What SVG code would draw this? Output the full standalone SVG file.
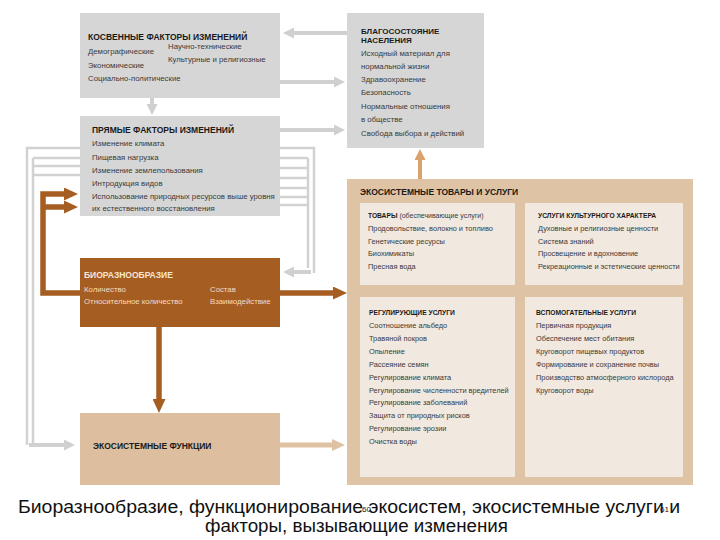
<svg xmlns="http://www.w3.org/2000/svg" width="720" height="540" viewBox="0 0 720 540">
<style>
text{font-family:"Liberation Sans",Arial,sans-serif;}
.t{font-size:8.5px;font-weight:bold;fill:#1a1a1a;}
.pt{font-size:6.7px;font-weight:bold;fill:#1a1a1a;}
.i{font-size:7.8px;fill:#3a3a3a;}
.pi{font-size:7.4px;fill:#3a3a3a;}
.bi{font-size:7.8px;fill:#f3dcc2;}
.bt{font-size:8.5px;font-weight:bold;fill:#f6e6d2;}
.gbox{fill:#d6d6d6;}
.g{fill:none;stroke:#d0d0d0;stroke-width:4;}
.gl{fill:none;stroke:#d2d2d2;stroke-width:2.5;}
.br{fill:none;stroke:#a65d22;stroke-width:5.5;}
.tn{fill:none;stroke:#dfc2a2;stroke-width:5;}
.or{fill:none;stroke:#dba26c;stroke-width:4;}
.cap{font-size:17.5px;fill:#111;}
.pg{font-size:8px;fill:#111;}
</style>
<defs>
<marker id="ag" markerUnits="userSpaceOnUse" markerWidth="11" markerHeight="11" viewBox="0 0 11 11" refX="2" refY="5.5" orient="auto"><path d="M0,0 L11,5.5 L0,11 z" fill="#d0d0d0"/></marker>
<marker id="ab" markerUnits="userSpaceOnUse" markerWidth="14" markerHeight="13" viewBox="0 0 14 13" refX="2" refY="6.5" orient="auto"><path d="M0,0 L14,6.5 L0,13 z" fill="#a65d22"/></marker>
<marker id="at" markerUnits="userSpaceOnUse" markerWidth="13" markerHeight="12" viewBox="0 0 13 12" refX="2" refY="6" orient="auto"><path d="M0,0 L13,6 L0,12 z" fill="#dfc2a2"/></marker>
<marker id="ao" markerUnits="userSpaceOnUse" markerWidth="11" markerHeight="11" viewBox="0 0 11 11" refX="2" refY="5.5" orient="auto"><path d="M0,0 L11,5.5 L0,11 z" fill="#dba26c"/></marker>
</defs>

<g id="connectors">
<path class="g" d="M347,33 H292" marker-end="url(#ag)"/>
<path class="g" d="M280,82 H336" marker-end="url(#ag)"/>
<path class="g" d="M280,130 H336" marker-end="url(#ag)"/>
<path class="g" d="M152,98 V106" marker-end="url(#ag)"/>
<path class="gl" d="M80,148 H27 V445"/>
<path class="gl" d="M80,158 H33 M80,166 H33 M80,175 H33 M33,158 V445"/>
<path class="g" d="M29,445 H66" marker-end="url(#ag)"/>
<path class="gl" d="M280,148 H314 V273"/>
<path class="gl" d="M280,158 H308 M280,168 H308 M280,178 H308 M280,188 H308 M280,197 H308 M280,205 H308 M308,158 V268"/>
<path class="g" d="M311,272 H292" marker-end="url(#ag)"/>
<path class="br" d="M80,293 H43 V194 H66" marker-end="url(#ab)"/>
<path class="br" d="M43,207 H66" marker-end="url(#ab)"/>
<path class="br" d="M280,293 H335" marker-end="url(#ab)"/>
<path class="br" d="M159,327 V401" marker-end="url(#ab)"/>
<path class="tn" d="M280,445 H334" marker-end="url(#at)"/>
<path class="or" d="M420,179 V158" marker-end="url(#ao)"/>
</g>

<g id="indirect">
<rect class="gbox" x="80" y="13" width="200" height="85"/>
<text class="t" x="88" y="40">КОСВЕННЫЕ ФАКТОРЫ ИЗМЕНЕНИЙ</text>
<text class="i" x="168" y="49">Научно-технические</text>
<text class="i" x="88" y="54">Демографические</text>
<text class="i" x="168" y="62">Культурные и религиозные</text>
<text class="i" x="88" y="68">Экономические</text>
<text class="i" x="88" y="81">Социально-политические</text>
</g>

<g id="wellbeing">
<rect class="gbox" x="347" y="13" width="137" height="135"/>
<text class="t" x="361" y="34" style="font-size:8px">БЛАГОСОСТОЯНИЕ</text>
<text class="t" x="361" y="43" style="font-size:8px">НАСЕЛЕНИЯ</text>
<text class="i" x="361" y="56">Исходный материал для</text>
<text class="i" x="361" y="69">нормальной жизни</text>
<text class="i" x="361" y="82">Здравоохранение</text>
<text class="i" x="361" y="95">Безопасность</text>
<text class="i" x="361" y="109">Нормальные отношения</text>
<text class="i" x="361" y="122">в обществе</text>
<text class="i" x="361" y="136">Свобода выбора и действий</text>
</g>

<g id="direct">
<rect class="gbox" x="80" y="116" width="200" height="100"/>
<text class="t" x="92" y="133">ПРЯМЫЕ ФАКТОРЫ ИЗМЕНЕНИЙ</text>
<text class="i" x="92" y="146">Изменение климата</text>
<text class="i" x="92" y="160">Пищевая нагрузка</text>
<text class="i" x="92" y="173">Изменение землепользования</text>
<text class="i" x="92" y="186">Интродукция видов</text>
<text class="i" x="92" y="199">Использование природных ресурсов выше уровня</text>
<text class="i" x="92" y="211">их естественного восстановления</text>
</g>

<g id="biodiversity">
<rect x="80" y="258" width="200" height="69" fill="#a65d22"/>
<text class="bt" x="84" y="278">БИОРАЗНООБРАЗИЕ</text>
<text class="bi" x="84" y="292">Количество</text>
<text class="bi" x="84" y="304">Относительное количество</text>
<text class="bi" x="210" y="292">Состав</text>
<text class="bi" x="210" y="304">Взаимодействие</text>
</g>

<g id="functions">
<rect x="80" y="413" width="200" height="72" fill="#ddbf9f"/>
<text class="t" x="93" y="449">ЭКОСИСТЕМНЫЕ ФУНКЦИИ</text>
</g>

<g id="goods-services">
<rect x="347" y="179" width="346" height="306" fill="#dec3a4"/>
<text class="t" x="360" y="195">ЭКОСИСТЕМНЫЕ ТОВАРЫ И УСЛУГИ</text>
<rect x="360" y="203" width="155" height="82" fill="#f1e8df"/>
<rect x="525" y="203" width="158" height="82" fill="#f1e8df"/>
<rect x="360" y="297" width="155" height="180" fill="#f1e8df"/>
<rect x="525" y="297" width="158" height="180" fill="#f1e8df"/>
</g>

<g id="provisioning">
<text x="368" y="218"><tspan class="pt">ТОВАРЫ</tspan><tspan class="pi" style="font-size:7px"> (обеспечивающие услуги)</tspan></text>
<text class="pi" x="368" y="231">Продовольствие, волокно и топливо</text>
<text class="pi" x="368" y="244">Генетические ресурсы</text>
<text class="pi" x="368" y="256">Биохимикаты</text>
<text class="pi" x="368" y="269">Пресная вода</text>
</g>

<g id="cultural">
<text class="pt" x="538" y="218">УСЛУГИ КУЛЬТУРНОГО ХАРАКТЕРА</text>
<text class="pi" x="538" y="231">Духовные и религиозные ценности</text>
<text class="pi" x="538" y="244">Система знаний</text>
<text class="pi" x="538" y="256">Просвещение и вдохновение</text>
<text class="pi" x="538" y="269">Рекреационные и эстетические ценности</text>
</g>

<g id="regulating">
<text class="pt" x="369" y="315">РЕГУЛИРУЮЩИЕ УСЛУГИ</text>
<text class="pi" x="369" y="328">Соотношение альбедо</text>
<text class="pi" x="369" y="341">Травяной покров</text>
<text class="pi" x="369" y="354">Опыление</text>
<text class="pi" x="369" y="367">Рассеяние семян</text>
<text class="pi" x="369" y="380">Регулирование климата</text>
<text class="pi" x="369" y="393">Регулирование численности вредителей</text>
<text class="pi" x="369" y="405">Регулирование заболеваний</text>
<text class="pi" x="369" y="418">Защита от природных рисков</text>
<text class="pi" x="369" y="431">Регулирование эрозии</text>
<text class="pi" x="369" y="444">Очистка воды</text>
</g>

<g id="supporting">
<text class="pt" x="536" y="315">ВСПОМОГАТЕЛЬНЫЕ УСЛУГИ</text>
<text class="pi" x="536" y="328">Первичная продукция</text>
<text class="pi" x="536" y="341">Обеспечение мест обитания</text>
<text class="pi" x="536" y="354">Круговорот пищевых продуктов</text>
<text class="pi" x="536" y="367">Формирование и сохранение почвы</text>
<text class="pi" x="536" y="380">Производство атмосферного кислорода</text>
<text class="pi" x="536" y="393">Круговорот воды</text>
</g>

<g id="caption">
<text class="cap" x="18" y="513" textLength="662" lengthAdjust="spacingAndGlyphs">Биоразнообразие, функционирование экосистем, экосистемные услуги и</text>
<text class="cap" x="205" y="532" textLength="303" lengthAdjust="spacingAndGlyphs">факторы, вызывающие изменения</text>
<text class="pg" x="362" y="512">60</text>
<text class="pg" x="660" y="512">61</text>
</g>
</svg>
